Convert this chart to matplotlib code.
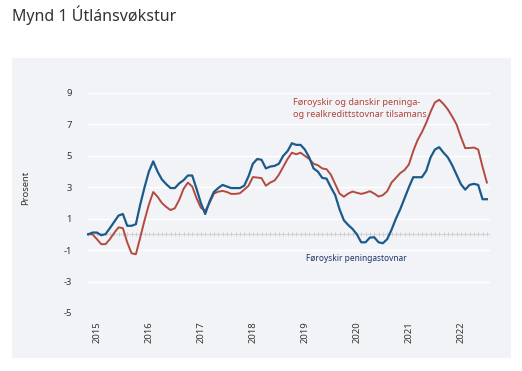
import matplotlib
matplotlib.use("Agg")
import matplotlib.pyplot as plt
import numpy as np

plt.rcParams['font.family'] = ['Noto Sans', 'DejaVu Sans']

# Monthly observations, Nov 2014 .. Jul 2022
start_year = 2014
start_month = 11
n_months = 93

blue = [0.0, 0.12, 0.12, -0.05, 0.02, 0.4, 0.8, 1.2, 1.3, 0.55,
        0.55, 0.65, 1.9, 3.0, 4.0, 4.65, 4.0, 3.5, 3.2, 2.95,
        2.95, 3.25, 3.45, 3.75, 3.75, 2.9, 2.0, 1.3, 2.1, 2.7,
        2.95, 3.15, 3.05, 2.95, 2.95, 2.95, 3.1, 3.7, 4.5, 4.8,
        4.75, 4.2, 4.32, 4.36, 4.5, 5.0, 5.3, 5.8, 5.7, 5.7,
        5.4, 4.9, 4.2, 4.0, 3.6, 3.55, 3.0, 2.5, 1.6, 0.9,
        0.6, 0.35, 0.0, -0.5, -0.5, -0.2, -0.18, -0.5, -0.56, -0.3,
        0.3, 1.0, 1.6, 2.3, 3.0, 3.64, 3.64, 3.64, 4.04, 4.9,
        5.4, 5.55, 5.2, 4.9, 4.4, 3.8, 3.2, 2.85, 3.15, 3.22,
        3.15, 2.24, 2.24]

red = [0.03, 0.0, -0.3, -0.62, -0.62, -0.3, 0.1, 0.45, 0.4, -0.5,
       -1.2, -1.26, -0.2, 0.9, 1.9, 2.7, 2.4, 2.0, 1.75, 1.55,
       1.67, 2.2, 2.9, 3.3, 3.05, 2.3, 1.7, 1.5, 2.0, 2.6,
       2.72, 2.77, 2.7, 2.58, 2.58, 2.62, 2.85, 3.1, 3.65, 3.62,
       3.58, 3.1, 3.3, 3.43, 3.8, 4.3, 4.8, 5.2, 5.1, 5.2,
       5.0, 4.8, 4.5, 4.4, 4.2, 4.15, 3.8, 3.2, 2.6, 2.4,
       2.6, 2.73, 2.65, 2.58, 2.65, 2.75, 2.6, 2.41, 2.5, 2.75,
       3.3, 3.6, 3.9, 4.1, 4.45, 5.3, 6.0, 6.5, 7.1, 7.8,
       8.4, 8.57, 8.3, 7.95, 7.5, 7.0, 6.2, 5.49, 5.5, 5.53,
       5.4, 4.3, 3.3]

years = [2015, 2016, 2017, 2018, 2019, 2020, 2021, 2022]
yticks = [9, 7, 5, 3, 1, -1, -3, -5]

title = "Mynd 1 Útlánsvøkstur"
ylabel = "Prosent"
red_label = "Føroyskir og danskir peninga-\nog realkredittstovnar tilsamans"
blue_label = "Føroyskir peningastovnar"

t = start_year + (start_month - 1) / 12 + np.arange(n_months) / 12

W, H = 522, 371
fig = plt.figure(figsize=(W / 100, H / 100), dpi=100)
fig.patch.set_facecolor('white')

panel_color = '#f2f3f7'
bg = fig.add_axes([12 / W, 1 - 358 / H, (511 - 12) / W, (358 - 58) / H], zorder=-5)
bg.set_facecolor(panel_color)
bg.set_xticks([])
bg.set_yticks([])
for s in bg.spines.values():
    s.set_visible(False)

fig.text(12 / W, 1 - 15 / H, title, fontsize=11.5, color='#333333', va='center', ha='left')

ax = fig.add_axes([87 / W, 1 - 313 / H, (490 - 87) / W, (313 - 93) / H], zorder=1)
ax.set_facecolor('none')
ax.set_xlim(2014.81, 2022.56)
ax.set_ylim(-5, 9)
for s in ax.spines.values():
    s.set_visible(False)

ax.set_yticks(yticks)
ax.set_yticklabels([str(v) for v in yticks])
ax.grid(axis='y', color='white', linewidth=1.0)
ax.set_axisbelow(True)
ax.tick_params(axis='y', length=0, pad=11, labelsize=6.8, labelcolor='#333333')

ax.set_xticks(years)
ax.set_xticklabels([str(y) for y in years], rotation=90, va='top', ha='center')
ax.tick_params(axis='x', length=0, pad=6, labelsize=6.8, labelcolor='#333333')

# zero axis with monthly tick marks
ax.axhline(0, color='#d6d6d6', linewidth=0.9, zorder=1)
ax.vlines(t, -0.13, 0.13, color='#cfcfcf', linewidth=0.7, zorder=1)

ax.plot(t, red, color='#b34a40', linewidth=1.4, zorder=3, clip_on=False)
ax.plot(t, blue, color='#1b5a8a', linewidth=1.6, zorder=4, clip_on=False)

ax.text(2018.77, 8.0, red_label, fontsize=6.5, color='#b0453b', va='center',
        ha='left', linespacing=1.35)
ax.text(2019.02, -1.55, blue_label, fontsize=6.0, color='#1f3468', va='center', ha='left')

fig.text(26 / W, 1 - 188 / H, ylabel, rotation=90, fontsize=6.8, color='#333333',
         va='center', ha='center')

fig.savefig('out.png', dpi=100)
